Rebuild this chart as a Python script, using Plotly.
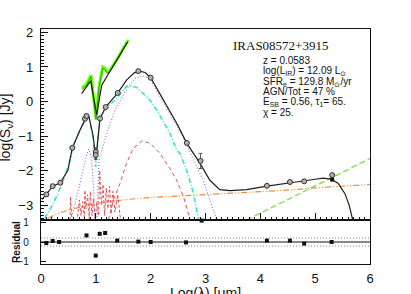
import plotly.graph_objects as go
from plotly.subplots import make_subplots

# ---------------- data ----------------
# total model (photometric part)
tot_x = [0.018, 0.097, 0.213, 0.352, 0.49, 0.571, 0.71, 0.80, 0.875, 0.954, 0.998, 1.045, 1.076,
         1.18, 1.40, 1.56, 1.70, 1.80, 1.90, 2.0, 2.23, 2.475, 2.66, 2.90, 3.08, 3.26, 3.45, 3.75,
         4.12, 4.36, 4.54, 4.78, 5.0, 5.15, 5.30, 5.42, 5.54, 5.62, 5.685]
tot_y = [-2.83, -2.69, -2.45, -2.35, -1.99, -1.34, -0.83, -0.54, -0.44, -1.02, -1.70, -0.92, -0.49,
         -0.16, 0.25, 0.62, 0.83, 0.88, 0.84, 0.69, 0.04, -0.63, -1.21, -1.79, -2.28, -2.55, -2.58, -2.55,
         -2.45, -2.39, -2.34, -2.30, -2.25, -2.22, -2.25, -2.37, -2.66, -3.0, -3.43]

# model of the spectrum (upper black)
spm_x = [0.742, 0.906, 1.016, 1.107, 1.58]
spm_y = [0.23, 0.60, -0.39, 0.47, 1.73]

# observed spectrum (green)
spec_x = [0.748, 0.833, 0.912, 0.954, 1.003, 1.058, 1.125, 1.167, 1.21, 1.258, 1.32, 1.41, 1.50, 1.59]
spec_y = [0.38, 0.52, 0.76, 0.14, -0.49, 0.43, 1.0, 0.96, 0.86, 0.91, 1.05, 1.29, 1.54, 1.78]

# AGN torus (cyan)
agn_x = [0.067, 0.19, 0.31, 0.43, 0.55, 0.571, 0.71, 0.80, 0.875, 0.954, 0.998, 1.045, 1.076, 1.18,
         1.35, 1.563, 1.623, 1.745, 1.866, 1.99, 2.11, 2.23, 2.35, 2.475, 2.535, 2.657, 2.78, 2.87]
agn_y = [-3.38, -3.05, -2.66, -2.18, -1.60, -1.34, -0.83, -0.54, -0.44, -1.10, -1.89, -1.00, -0.49, -0.20,
         0.04, 0.45, 0.45, 0.41, 0.23, 0.04, -0.25, -0.59, -0.92, -1.41, -1.50, -1.99, -2.66, -3.41]

# starburst (blue dotted), two pieces
sb1_x = [0.55, 0.65, 0.75, 0.83, 0.87, 0.92, 0.96, 0.98]
sb1_y = [-3.43, -2.8, -2.1, -1.55, -1.38, -1.6, -2.5, -3.43]
sb2_x = [1.02, 1.058, 1.2, 1.35, 1.53, 1.71, 1.85, 1.99, 2.23, 2.45, 2.626, 2.84, 2.96, 3.08, 3.2]
sb2_y = [-3.43, -1.70, -0.92, -0.25, 0.28, 0.67, 0.75, 0.66, -0.02, -0.65, -1.12, -1.89, -2.28, -2.85, -3.41]

# cold / host component (red dashed arc)
host_x = [1.23, 1.32, 1.44, 1.56, 1.68, 1.84, 1.99, 2.17, 2.35, 2.475, 2.6, 2.72]
host_y = [-3.43, -2.85, -2.37, -1.79, -1.36, -1.14, -1.21, -1.50, -1.94, -2.28, -2.76, -3.43]

# jagged stellar / PAH (red dashed)
pah_x = [0.53, 0.54, 0.56, 0.60, 0.66, 0.70, 0.73, 0.76, 0.79, 0.80, 0.82, 0.85, 0.88, 0.90, 0.93,
         0.96, 0.99, 1.02, 1.05, 1.07, 1.10, 1.13, 1.16, 1.19, 1.22, 1.25, 1.28, 1.31, 1.35, 1.40, 1.45]
pah_y = [-3.43, -2.76, -3.43, -3.43, -3.43, -2.85, -3.3, -2.9, -3.35, -2.57, -3.1, -2.7, -3.4, -2.6, -3.3,
         -2.8, -3.43, -2.9, -3.3, -2.0, -3.0, -2.4, -3.3, -2.5, -3.1, -2.45, -3.25, -2.6, -3.2, -2.7, -3.43]

# orange dash-dot-dot component
stel_x = [0.13, 0.31, 0.55, 0.86, 1.22, 1.6, 2.0, 2.5, 2.9, 3.5, 4.0, 4.36, 5.0, 5.5, 6.0]
stel_y = [-3.38, -3.24, -3.12, -3.00, -2.90, -2.83, -2.78, -2.73, -2.70, -2.65, -2.61, -2.58, -2.50, -2.45, -2.40]

# green dashed component
rad_x = [3.75, 4.42, 5.94, 6.0]
rad_y = [-3.43, -2.90, -1.70, -1.65]

# observed photometry
obs_x = [0.097, 0.213, 0.352, 0.571, 0.80, 0.83, 0.998, 0.998, 1.076, 1.18, 1.40, 1.775, 2.0, 2.66,
         2.91, 4.12, 4.54, 4.80, 5.31]
obs_y = [-2.69, -2.45, -2.35, -1.34, -0.50, -0.42, -1.46, -1.55, -0.49, -0.16, 0.25, 0.88, 0.69, -1.20,
         -1.72, -2.44, -2.33, -2.31, -2.13]
obs_e = [0.02, 0.02, 0.02, 0.02, 0.05, 0.05, 0.12, 0.12, 0.02, 0.02, 0.02, 0.02, 0.02, 0.02,
         0.22, 0.02, 0.02, 0.02, 0.04]

# model photometry
modp_x = [5.31]
modp_y = [-2.26]

# residuals
res_x = [0.097, 0.213, 0.33, 0.83, 0.998, 1.07, 1.17, 1.39, 1.775, 2.0, 2.645, 2.93, 4.12, 4.54, 4.80, 5.30]
res_y = [-0.05, 0.05, 0.0, 0.33, -0.68, 0.41, 0.45, 0.07, 0.02, 0.0, -0.02, 1.07, 0.07, 0.07, -0.08, 0.0]

main_yticks = [-3, -2, -1, 0, 1, 2]
res_yticks = [-1, 0, 1]
x_ticks = [0, 1, 2, 3, 4, 5, 6]

info_lines = ["z = 0.0583",
              "log(L<sub>IR</sub>) = 12.09 L<sub>⊙</sub>",
              "SFR<sub>e</sub> = 129.8 M<sub>⊙</sub>/yr",
              "AGN/Tot = 47 %",
              "E<sub>SB</sub> = 0.56, τ<sub>1</sub>= 65.",
              "χ = 25."]

# ---------------- figure ----------------
fig = make_subplots(rows=2, cols=1, shared_xaxes=True, vertical_spacing=0,
                    row_heights=[0.8128, 0.1872])

def line(x, y, color, width, dash="solid", row=1):
    fig.add_trace(go.Scatter(x=x, y=y, mode="lines", line=dict(color=color, width=width, dash=dash),
                             showlegend=False, hoverinfo="skip"), row=row, col=1)

line(stel_x, stel_y, "#f08a3c", 1.2, "6px,2px,1px,2px,1px,2px")
line(rad_x, rad_y, "#70e030", 1.2, "6px,3px")
line(pah_x, pah_y, "#e05555", 1.0, "3px,2px")
line(host_x, host_y, "#e05555", 1.0, "4px,3px")
line(sb1_x, sb1_y, "#8878f0", 1.2, "1px,2px")
line(sb2_x, sb2_y, "#8878f0", 1.2, "1px,2px")
line(agn_x, agn_y, "#30e0c8", 1.5, "5px,2px,1px,2px")
line(spec_x, spec_y, "#66ff00", 3.0)
line(spec_x, [v - 0.04 for v in spec_y], "#119911", 0.8)
line(spm_x, spm_y, "#201008", 1.1)
line(tot_x, tot_y, "#2a1a10", 1.2)

fig.add_trace(go.Scatter(x=obs_x, y=obs_y, mode="markers",
                         marker=dict(symbol="circle", size=5, color="#b0b0b0",
                                     line=dict(color="#333333", width=1)),
                         error_y=dict(type="data", array=obs_e, color="#555555", thickness=1, width=2),
                         showlegend=False, hoverinfo="skip"), row=1, col=1)
fig.add_trace(go.Scatter(x=modp_x, y=modp_y, mode="markers",
                         marker=dict(symbol="square", size=4, color="#111111"),
                         showlegend=False, hoverinfo="skip"), row=1, col=1)

# residual panel
fig.add_trace(go.Scatter(x=[0, 6], y=[0, 0], mode="lines", line=dict(color="#111111", width=1),
                         showlegend=False, hoverinfo="skip"), row=2, col=1)
for v in (0.2, -0.2):
    fig.add_trace(go.Scatter(x=[0, 6], y=[v, v], mode="lines",
                             line=dict(color="#888888", width=1, dash="1px,2px"),
                             showlegend=False, hoverinfo="skip"), row=2, col=1)
fig.add_trace(go.Scatter(x=res_x, y=res_y, mode="markers", cliponaxis=False,
                         marker=dict(symbol="square", size=4, color="#111111"),
                         showlegend=False, hoverinfo="skip"), row=2, col=1)

tickfont = dict(family="Liberation Sans", size=13, color="#111111")

fig.update_xaxes(range=[0, 6], tickvals=x_ticks, showline=True, linecolor="#111111", linewidth=1.2,
                 mirror=True, showgrid=False, zeroline=False, automargin=False)
fig.update_xaxes(row=1, col=1, ticks="inside", ticklen=7, tickwidth=1, tickcolor="#111111",
                 minor=dict(ticks="inside", dtick=0.1, ticklen=3, tickcolor="#111111"),
                 showticklabels=False)
fig.update_xaxes(row=2, col=1, ticks="outside", ticklen=2, tickcolor="rgba(0,0,0,0)",
                 showticklabels=True, tickfont=tickfont)

fig.update_yaxes(row=1, col=1, range=[-3.43, 2.10], tickvals=main_yticks, ticks="inside", ticklen=7,
                 tickwidth=1, tickcolor="#111111",
                 minor=dict(ticks="inside", dtick=0.1, ticklen=3, tickcolor="#111111"),
                 showline=True, linecolor="#111111", linewidth=1.2, mirror=True, showgrid=False,
                 zeroline=False, tickfont=tickfont, ticklabelstandoff=4, automargin=False)
fig.update_yaxes(row=2, col=1, range=[-1.1, 1.1], tickvals=res_yticks, ticks="inside", ticklen=5,
                 tickwidth=1, tickcolor="#111111",
                 showline=True, linecolor="#111111", linewidth=1.2, mirror=True, showgrid=False,
                 zeroline=False, tickfont=dict(family="Liberation Sans", size=10, color="#111111"),
                 ticklabelstandoff=9, automargin=False)

ann = []
ann.append(dict(text="IRAS08572+3915", x=0.729, y=0.928, xref="paper", yref="paper",
                xanchor="center", yanchor="middle", showarrow=False,
                font=dict(family="Liberation Serif", size=13, color="#111111")))
ys = [0.864, 0.821, 0.776, 0.733, 0.691, 0.646]
for t, yy in zip(info_lines, ys):
    ann.append(dict(text=t, x=0.668, y=yy, xref="paper", yref="paper", xanchor="left",
                    align="left", yanchor="middle", showarrow=False,
                    font=dict(family="Liberation Sans", size=10, color="#111111")))
ann.append(dict(text="log(S<sub>ν</sub>) [Jy]", x=-0.107, y=0.58, xref="paper", yref="paper",
                xanchor="center", yanchor="middle", textangle=-90, showarrow=False,
                font=dict(family="Liberation Sans", size=14, color="#111111")))
ann.append(dict(text="Residual", x=-0.073, y=0.094, xref="paper", yref="paper",
                xanchor="center", yanchor="middle", textangle=-90, showarrow=False,
                font=dict(family="Liberation Sans", size=10, color="#111111", weight="bold")))
ann.append(dict(text="Log(λ) [μm]", x=0.5, y=-0.125, xref="paper", yref="paper",
                xanchor="center", yanchor="middle", showarrow=False,
                font=dict(family="Liberation Sans", size=14, color="#111111")))

fig.update_layout(width=411, height=294, margin=dict(l=41, r=41, t=29, b=30, autoexpand=False),
                  paper_bgcolor="white", plot_bgcolor="white", annotations=ann,
                  showlegend=False)

fig.write_html("out.html", config={"displayModeBar": False, "staticPlot": True},
               post_script="document.body.style.margin='0';document.body.style.overflow='hidden';")
